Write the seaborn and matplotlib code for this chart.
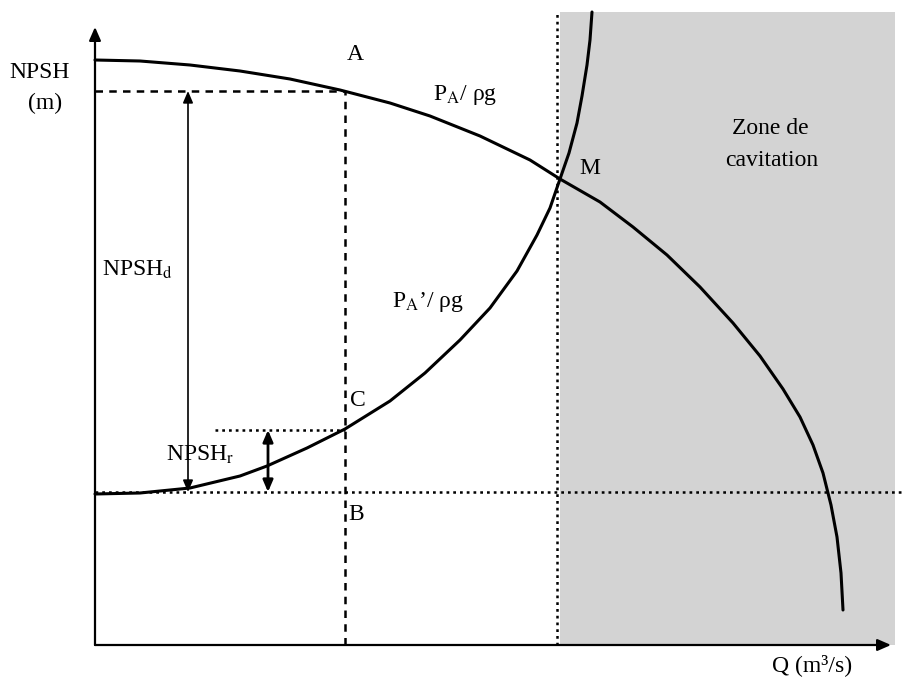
import matplotlib
matplotlib.use("Agg")
import matplotlib.pyplot as plt
import seaborn as sns
from matplotlib.patches import Rectangle

sns.set_style("white")
plt.rcParams["font.family"] = ["Liberation Serif", "DejaVu Serif"]
plt.rcParams["mathtext.fontset"] = "stix"
plt.rcParams["text.color"] = "black"

# curves (Q, NPSH) in arbitrary units
pa_q = [0, 45, 95, 145, 195, 245, 295, 335, 385, 435, 465, 505, 538, 572,
        605, 638, 665, 688, 705, 718, 728, 736, 742, 746, 748]
pa_h = [585, 584, 580, 574, 566, 555, 542, 529, 509, 485, 466, 443, 418, 390,
        358, 322, 289, 256, 228, 200, 172, 140, 108, 72, 35]

pa2_q = [0, 45, 95, 145, 172, 212, 250, 295, 330, 365, 395, 422, 442, 455,
         465, 474, 482, 487, 492, 495, 497]
pa2_h = [151, 152, 157, 169, 179, 197, 216, 244, 272, 305, 337, 374, 410, 437,
         466, 492, 522, 549, 580, 605, 633]

# reference levels
q_a = 250          # vertical through A, C, B
q_lim = 462        # limit of the cavitation zone
h_a = 554          # level of A
h_c = 215          # level of C
h_b = 153          # level of B
q_npshd = 93
q_npshr = 173

fig = plt.figure(figsize=(9.03, 6.8), dpi=100)
ax = fig.add_axes([0, 0, 1, 1])
ax.set_xlim(-95, 808)
ax.set_ylim(-35, 645)
ax.axis("off")

# cavitation zone
ax.add_patch(Rectangle((465, 0), 335, 633, facecolor="#d3d3d3",
                       edgecolor="none", zorder=0))

# axes with arrows
arr = dict(arrowstyle="-|>,head_length=0.8,head_width=0.35", color="black",
           lw=1.6, shrinkA=0, shrinkB=0)
ax.annotate("", xy=(0, 618), xytext=(0, 0), arrowprops=arr)
ax.annotate("", xy=(796, 0), xytext=(0, 0), arrowprops=arr)

# curves
sns.lineplot(x=pa_q, y=pa_h, sort=False, estimator=None, color="black",
             lw=2.2, ax=ax)
sns.lineplot(x=pa2_q, y=pa2_h, sort=False, estimator=None, color="black",
             lw=2.2, ax=ax)

# dashed / dotted guides
dash = dict(color="black", lw=1.8, dashes=(3, 2.5))
dot = dict(color="black", lw=1.8, dashes=(1.1, 1.6))
ax.plot([0, q_a], [h_a, h_a], **dash)
ax.plot([q_a, q_a], [0, h_a], **dash)
ax.plot([120, q_a], [h_c, h_c], **dot)
ax.plot([0, 808], [h_b, h_b], **dot)
ax.plot([q_lim, q_lim], [0, 633], **dot)

# double arrows
dbl = dict(arrowstyle="<|-|>,head_length=0.7,head_width=0.3", color="black",
           lw=1.2, shrinkA=0, shrinkB=0)
ax.annotate("", xy=(q_npshd, h_a), xytext=(q_npshd, h_b), arrowprops=dbl)
dbl2 = dict(dbl, lw=2.0)
ax.annotate("", xy=(q_npshr, h_c), xytext=(q_npshr, h_b), arrowprops=dbl2)

fs = 17
ax.text(-55, 573, "NPSH", fontsize=fs, ha="center", va="center")
ax.text(-50, 542, "(m)", fontsize=fs, ha="center", va="center")
ax.text(260, 590, "A", fontsize=fs, ha="center", va="center")
ax.text(263, 245, "C", fontsize=fs, ha="center", va="center")
ax.text(261, 130, "B", fontsize=fs, ha="center", va="center")
ax.text(495, 477, "M", fontsize=fs, ha="center", va="center")
ax.text(370, 550, r"P$_{\mathrm{A}}$/ ρg", fontsize=fs, ha="center", va="center")
ax.text(333, 343, r"P$_{\mathrm{A}}$’/ ρg", fontsize=fs, ha="center", va="center")
ax.text(42, 375, r"NPSH$_{\mathrm{d}}$", fontsize=fs, ha="center", va="center")
ax.text(105, 190, r"NPSH$_{\mathrm{r}}$", fontsize=fs, ha="center", va="center")
ax.text(675, 516, "Zone de", fontsize=fs, ha="center", va="center")
ax.text(677, 485, "cavitation", fontsize=fs, ha="center", va="center")
ax.text(717, -20, "Q (m³/s)", fontsize=fs, ha="center", va="center")

fig.savefig("out.png", dpi=100, facecolor="white")
